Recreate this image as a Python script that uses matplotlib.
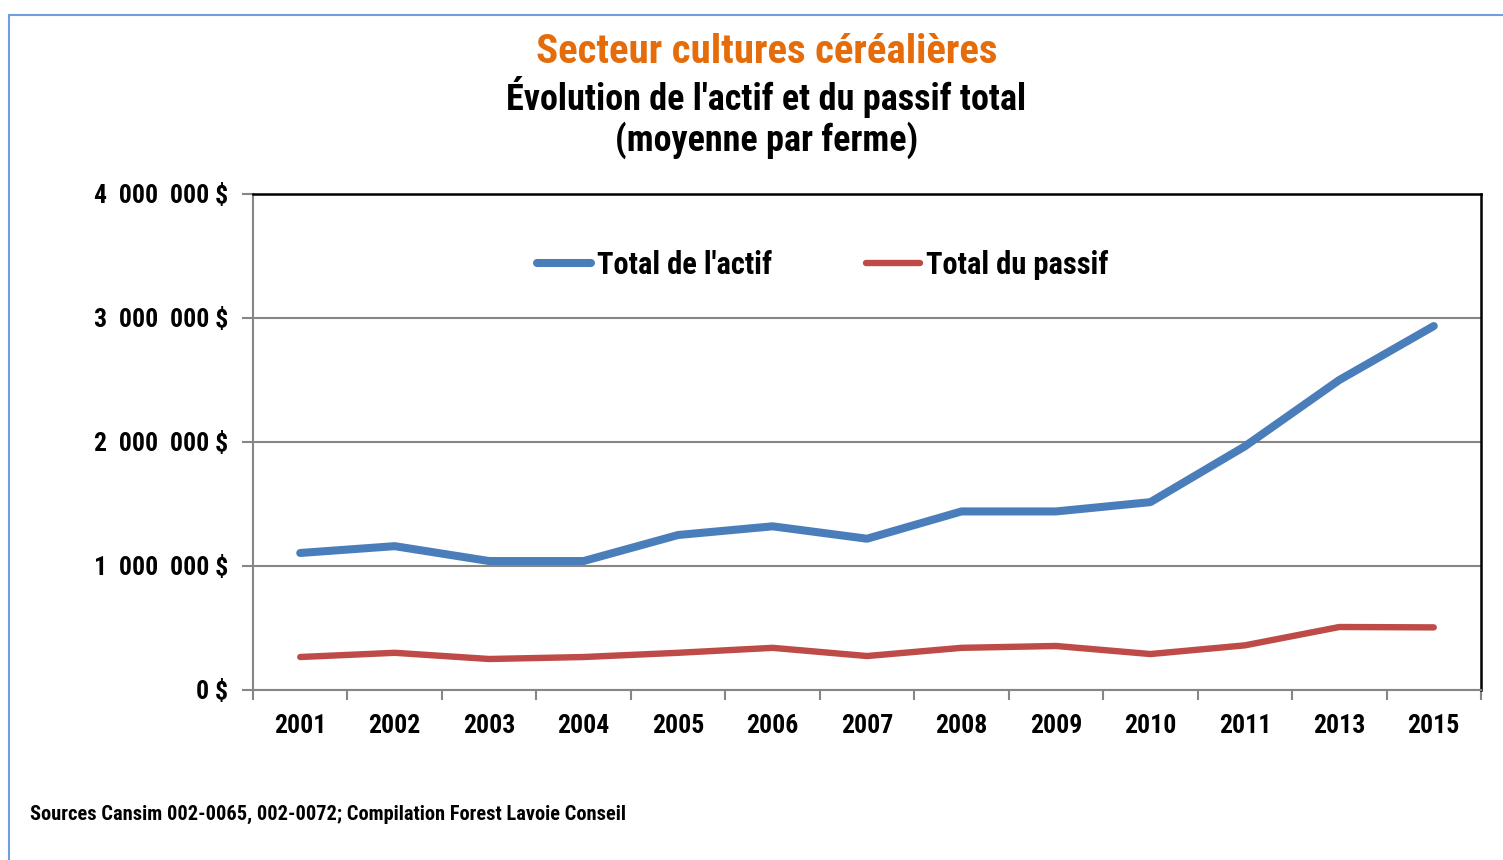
import numpy as np
import matplotlib.pyplot as plt
from matplotlib.patches import Rectangle
from matplotlib.ticker import FixedLocator

# %%
annees = ["2001", "2002", "2003", "2004", "2005", "2006", "2007",
          "2008", "2009", "2010", "2011", "2013", "2015"]
actif = [1105000, 1160000, 1040000, 1040000, 1250000, 1320000, 1220000,
         1440000, 1440000, 1515000, 1965000, 2500000, 2935000]
passif = [266000, 300000, 250000, 266000, 300000, 340000, 274000,
          340000, 355000, 290000, 360000, 508000, 505000]
yticks = [0, 1000000, 2000000, 3000000, 4000000]

plt.rcParams['font.family'] = ['Roboto Condensed', 'Liberation Sans', 'DejaVu Sans']
plt.rcParams['font.weight'] = 'bold'

c_actif = '#4A7EBB'
c_passif = '#BE4B48'
gris = '#868686'


def fmt_dollars(v):
    if v == 0:
        return "0 $"
    return "{:,}".format(int(v)).replace(",", "  ") + " $"


# %%
fig = plt.figure(figsize=(15.03, 8.6), dpi=100)
ax = fig.add_axes([253 / 1503, 1 - 690 / 860, 1228 / 1503, 496 / 860])

x = np.arange(len(annees))
ax.plot(x, actif, color=c_actif, lw=5.8, solid_capstyle='round',
        solid_joinstyle='round', label="Total de l'actif", zorder=3)
ax.plot(x, passif, color=c_passif, lw=4.6, solid_capstyle='round',
        solid_joinstyle='round', label="Total du passif", zorder=3)

ax.set_xlim(-0.5, len(annees) - 0.5)
ax.set_ylim(0, 4000000)
ax.set_yticks(yticks)
ax.set_yticklabels([fmt_dollars(v) for v in yticks])
ax.set_xticks(x)
ax.set_xticklabels(annees)
ax.xaxis.set_minor_locator(FixedLocator(np.arange(-0.5, len(annees), 1.0)))

ax.tick_params(axis='x', which='major', length=0, pad=17, labelsize=18.5)
ax.tick_params(axis='x', which='minor', length=7, width=1.5, color=gris)
ax.tick_params(axis='y', length=8, width=1.5, color=gris, pad=10,
               labelsize=18.5)

ax.grid(axis='y', color=gris, lw=1.5, zorder=1)
for s in ['left', 'bottom']:
    ax.spines[s].set_color(gris)
    ax.spines[s].set_linewidth(1.5)
for s in ['top', 'right']:
    ax.spines[s].set_color('black')
    ax.spines[s].set_linewidth(1.8)

ax.legend(loc='center', bbox_to_anchor=(0.464, 0.857), ncol=2,
          frameon=False, fontsize=22, handlelength=1.75,
          handletextpad=0.2, columnspacing=3.1)

fig.text(0.510, 1 - 52 / 860, "Secteur cultures céréalières",
         ha='center', va='center', fontsize=29.5, color='#E46C0A')
fig.text(0.510, 1 - 97 / 860, "Évolution de l'actif et du passif total",
         ha='center', va='center', fontsize=26)
fig.text(0.510, 1 - 140 / 860, "(moyenne par ferme)",
         ha='center', va='center', fontsize=26)
fig.text(30 / 1503, 1 - 814 / 860,
         "Sources Cansim 002-0065, 002-0072; Compilation Forest Lavoie Conseil",
         ha='left', va='center', fontsize=14.7)

fig.patches.append(Rectangle((9 / 1503, -0.05), 1.1, 0.05 + 1 - 15 / 860,
                             transform=fig.transFigure, fill=False,
                             ec='#6F9FE0', lw=1.5))

fig.savefig("out.png", dpi=100)
